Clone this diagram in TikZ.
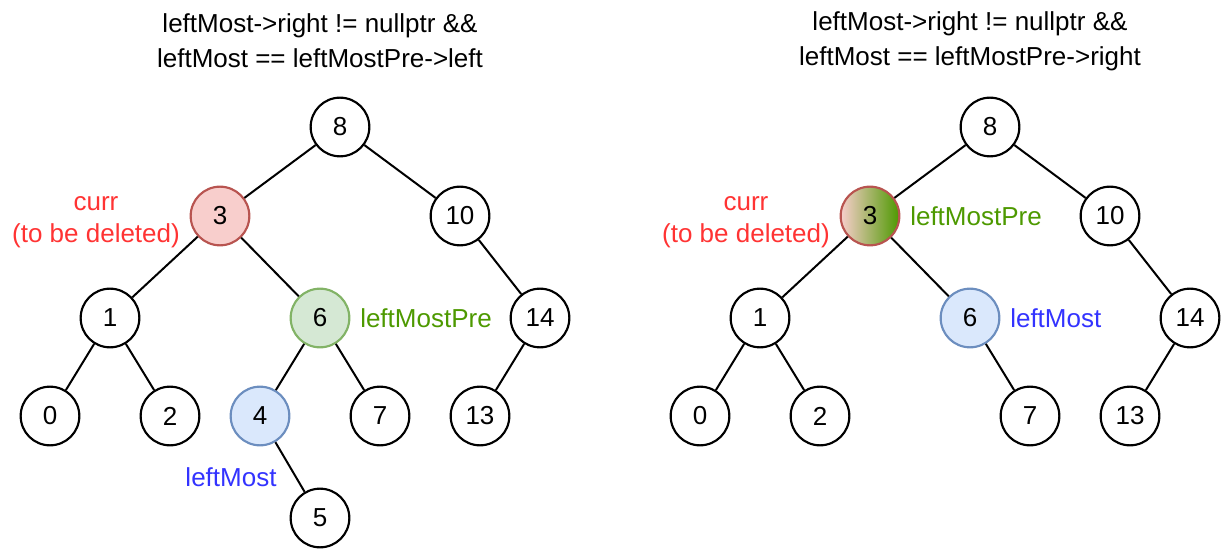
\documentclass[tikz,border=0pt]{standalone}
\usepackage{fontspec}
\setmainfont{Liberation Sans}
\definecolor{redfill}{HTML}{F8CECC}
\definecolor{redline}{HTML}{B85450}
\definecolor{greenfill}{HTML}{D5E8D4}
\definecolor{greenline}{HTML}{82B366}
\definecolor{bluefill}{HTML}{DAE8FC}
\definecolor{blueline}{HTML}{6C8EBF}
\definecolor{lblred}{HTML}{FF3333}
\definecolor{lblgreen}{HTML}{4D9900}
\definecolor{lblblue}{HTML}{3333FF}
\tikzset{
  tn/.style={circle, draw=black, line width=1.6pt, minimum size=44pt, inner sep=0pt, fill=white, font=\fontsize{19.5}{24}\selectfont},
  rednode/.style={tn, draw=redline, fill=redfill},
  greennode/.style={tn, draw=greenline, fill=greenfill},
  bluenode/.style={tn, draw=blueline, fill=bluefill},
  gradnode/.style={tn, draw=redline, left color=redfill, right color=lblgreen},
  edge/.style={line width=1.5pt, black},
  lbl/.style={font=\fontsize{19.5}{24}\selectfont, align=center, inner sep=0pt},
  ttl/.style={font=\fontsize{19.5}{26}\selectfont, align=center, inner sep=0pt}
}
\begin{document}
\begin{tikzpicture}[x=0.75pt, y=-0.75pt]
\useasboundingbox (0,0) rectangle (1222,549);
% titles
\node[ttl] (t1) at (320,41) {leftMost->right != nullptr \&\&\\leftMost == leftMostPre->left};
\node[ttl] (t2) at (970,41) {leftMost->right != nullptr \&\&\\leftMost == leftMostPre->right};
% left tree
\node[tn] (a8) at (340,127) {8};
\node[rednode] (a3) at (220,216) {3};
\node[tn] (a10) at (460,216) {10};
\node[tn] (a1) at (110,318) {1};
\node[greennode] (a6) at (320,318) {6};
\node[tn] (a14) at (540,318) {14};
\node[tn] (a0) at (50,416) {0};
\node[tn] (a2) at (170,416) {2};
\node[bluenode] (a4) at (260,416) {4};
\node[tn] (a7) at (380,416) {7};
\node[tn] (a13) at (480,416) {13};
\node[tn] (a5) at (320,518) {5};
\draw[edge] (a8) -- (a3);
\draw[edge] (a8) -- (a10);
\draw[edge] (a3) -- (a1);
\draw[edge] (a3) -- (a6);
\draw[edge] (a10) -- (a14);
\draw[edge] (a1) -- (a0);
\draw[edge] (a1) -- (a2);
\draw[edge] (a6) -- (a4);
\draw[edge] (a6) -- (a7);
\draw[edge] (a14) -- (a13);
\draw[edge] (a4) -- (a5);
\node[lbl, text=lblred] (lc1) at (96,222) {curr\\(to be deleted)};
\node[lbl, text=lblgreen, anchor=west] (lp1) at (360,318) {leftMostPre};
\node[lbl, text=lblblue] (lm1) at (231,477) {leftMost};
% right tree
\node[tn] (b8) at (990,127) {8};
\node[gradnode] (b3) at (870,216) {3};
\node[tn] (b10) at (1110,216) {10};
\node[tn] (b1) at (760,318) {1};
\node[bluenode] (b6) at (970,318) {6};
\node[tn] (b14) at (1190,318) {14};
\node[tn] (b0) at (700,416) {0};
\node[tn] (b2) at (820,416) {2};
\node[tn] (b7) at (1030,416) {7};
\node[tn] (b13) at (1130,416) {13};
\draw[edge] (b8) -- (b3);
\draw[edge] (b8) -- (b10);
\draw[edge] (b3) -- (b1);
\draw[edge] (b3) -- (b6);
\draw[edge] (b10) -- (b14);
\draw[edge] (b1) -- (b0);
\draw[edge] (b1) -- (b2);
\draw[edge] (b6) -- (b7);
\draw[edge] (b14) -- (b13);
\node[lbl, text=lblred] (lc2) at (746,222) {curr\\(to be deleted)};
\node[lbl, text=lblgreen, anchor=west] (lp2) at (910,216) {leftMostPre};
\node[lbl, text=lblblue, anchor=west] (lm2) at (1010,318) {leftMost};
\end{tikzpicture}
\end{document}
